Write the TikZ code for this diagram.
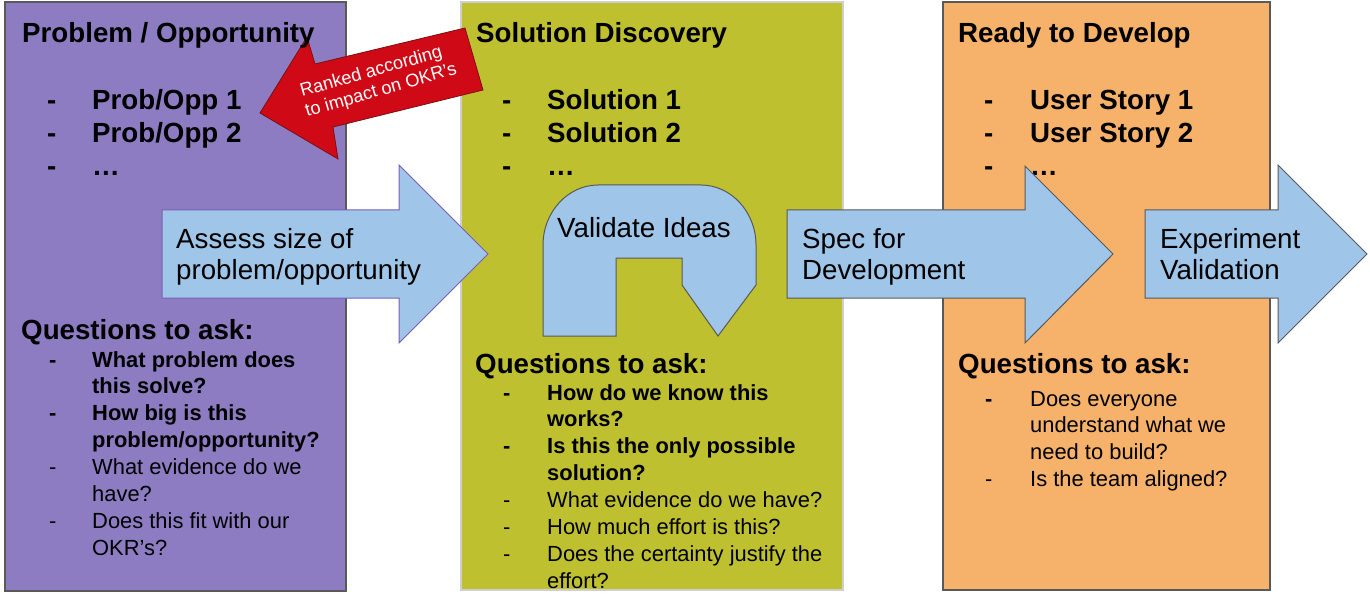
\documentclass[tikz,border=0pt]{standalone}
\usepackage{fontspec}
\setmainfont{Liberation Sans}

\definecolor{probpurple}{HTML}{8E7CC3}
\definecolor{sololive}{HTML}{BFC02F}
\definecolor{devorange}{HTML}{F6B26B}
\definecolor{arrowblue}{HTML}{9FC5E8}
\definecolor{rankred}{HTML}{CF0A16}
\definecolor{rankedge}{HTML}{7A1010}
\definecolor{edgegrey}{HTML}{595959}
\definecolor{palegrey}{HTML}{CFCFCF}
\definecolor{assessedge}{HTML}{7A5FB5}

\newcommand{\stagefont}{\fontsize{27.7}{33}\selectfont\bfseries}
\newcommand{\askfont}{\fontsize{21.9}{26.9}\selectfont}
\newcommand{\arrowfont}{\fontsize{27.7}{31}\selectfont}
\newcommand{\rankfont}{\fontsize{18.2}{22}\selectfont}

\begin{document}
\begin{tikzpicture}[x=1pt, y=-1pt,
	column/.style={draw=edgegrey, line width=1.5pt},
	blockarrow/.style={fill=arrowblue, draw=edgegrey, line width=1pt},
	txt/.style={anchor=base west, inner sep=0pt}]
		\useasboundingbox (0,0) rectangle (1370,604);
		% the three stages
		\draw[column, fill=probpurple] (5,2) rectangle (346,591);
		\draw[column, fill=sololive, draw=palegrey] (461,2) rectangle (843,590);
		\draw[column, fill=devorange] (943,2) rectangle (1270,590);
		% ranking arrow
		\coordinate (ranktip) at (260,113);
		\draw[fill=rankred, draw=rankedge, line width=0.8pt] (ranktip) -- (307,37) -- (315,64) -- (465,28)
		-- (483,90) -- (333,127) -- (338,159) -- cycle;
		\node[txt, rotate=16, text=white, font=\rankfont] (rank1) at (302,97) {Ranked according};
		\node[txt, rotate=16, text=white, font=\rankfont] (rank2) at (307,117) {to impact on OKR’s};
		% problem / opportunity
		\node[txt, font=\stagefont] (probtitle) at (22,43) {Problem / Opportunity};
		\node[txt, font=\stagefont] (problist) at (47,110) {\begin{tabular}[t]{@{}p{45pt}@{}l@{}}
			- & Prob/Opp 1\\ - & Prob/Opp 2\\ - & …\end{tabular}};
		\node[txt, font=\stagefont] (probask) at (21,339) {Questions to ask:};
		\node[txt, font=\askfont] (probqs) at (49,367) {\begin{tabular}[t]{@{}p{43pt}@{}l@{}}
			\textbf{-} & \textbf{What problem does}\\ & \textbf{this solve?}\\
			\textbf{-} & \textbf{How big is this}\\ & \textbf{problem/opportunity?}\\
			- & What evidence do we\\ & have?\\
			- & Does this fit with our\\ & OKR’s?\end{tabular}};
		% solution discovery
		\node[txt, font=\stagefont] (soltitle) at (476,43) {Solution Discovery};
		\node[txt, font=\stagefont] (sollist) at (502,110) {\begin{tabular}[t]{@{}p{45pt}@{}l@{}}
			- & Solution 1\\ - & Solution 2\\ - & …\end{tabular}};
		\node[txt, font=\stagefont] (solask) at (475,373) {Questions to ask:};
		\node[txt, font=\askfont] (solqs) at (503,400) {\begin{tabular}[t]{@{}p{44pt}@{}l@{}}
			\textbf{-} & \textbf{How do we know this}\\ & \textbf{works?}\\
			\textbf{-} & \textbf{Is this the only possible}\\ & \textbf{solution?}\\
			- & What evidence do we have?\\
			- & How much effort is this?\\
			- & Does the certainty justify the\\ & effort?\end{tabular}};
		% ready to develop
		\node[txt, font=\stagefont] (devtitle) at (958,43) {Ready to Develop};
		\node[txt, font=\stagefont] (devlist) at (984,110) {\begin{tabular}[t]{@{}p{46pt}@{}l@{}}
			- & User Story 1\\ - & User Story 2\\ - & …\end{tabular}};
		\node[txt, font=\stagefont] (devask) at (958,373) {Questions to ask:};
		\node[txt, font=\askfont] (devqs) at (985,406) {\begin{tabular}[t]{@{}p{45pt}@{}l@{}}
			\textbf{-} & Does everyone\\ & understand what we\\ & need to build?\\
			- & Is the team aligned?\end{tabular}};
		% flow arrows
		\draw[blockarrow, draw=assessedge] (162,210) -- (399,210) -- (399,165) -- (488,254)
		-- (399,343) -- (399,298) -- (162,298) -- cycle;
		\node[txt, font=\arrowfont] (assess) at (176,248) {\begin{tabular}[t]{@{}l@{}}
			Assess size of\\ problem/opportunity\end{tabular}};
		\draw[blockarrow] (543,336) -- (543,245) .. controls (543,212) and (568,185) .. (598,185)
		-- (701,185) .. controls (731,185) and (756,212) .. (756,245) -- (756,285) -- (718,336)
		-- (682,285) -- (682,258) -- (616,258) -- (616,336) -- cycle;
		\node[txt, font=\arrowfont] (validate) at (557,237) {Validate Ideas};
		\draw[blockarrow] (787,210) -- (1025,210) -- (1025,166) -- (1113,254)
		-- (1025,343) -- (1025,298) -- (787,298) -- cycle;
		\node[txt, font=\arrowfont] (spec) at (802,248) {\begin{tabular}[t]{@{}l@{}}
			Spec for\\ Development\end{tabular}};
		\draw[blockarrow] (1145,210) -- (1278,210) -- (1278,165) -- (1367,254)
		-- (1278,343) -- (1278,298) -- (1145,298) -- cycle;
		\node[txt, font=\arrowfont] (experiment) at (1160,248) {\begin{tabular}[t]{@{}l@{}}
			Experiment\\ Validation\end{tabular}};
\end{tikzpicture}
\end{document}
